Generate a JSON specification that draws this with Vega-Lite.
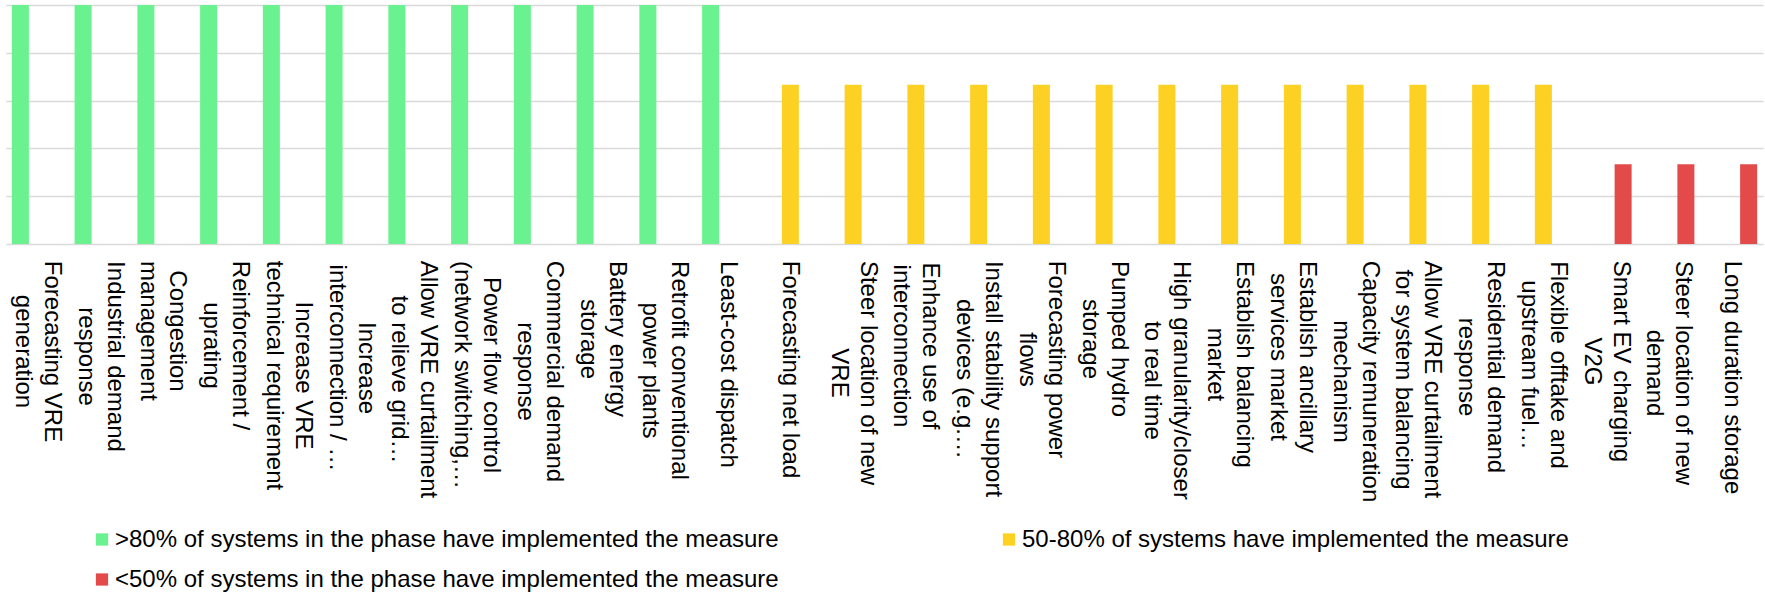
{
  "$schema": "https://vega.github.io/schema/vega-lite/v6.json",
  "width": 1757,
  "height": 239,
  "padding": {"left": 6, "top": 5, "right": 2, "bottom": 348},
  "autosize": {"type": "none"},
  "background": "white",
  "config": {"view": {"stroke": null}, "font": "Liberation Sans"},
  "data": {"values": [
    {"measure": "Forecasting VRE|generation", "group": ">80% of systems in the phase have implemented the measure", "score": 3},
    {"measure": "Industrial demand|response", "group": ">80% of systems in the phase have implemented the measure", "score": 3},
    {"measure": "Congestion|management", "group": ">80% of systems in the phase have implemented the measure", "score": 3},
    {"measure": "Reinforcement /|uprating", "group": ">80% of systems in the phase have implemented the measure", "score": 3},
    {"measure": "Increase VRE|technical requirement", "group": ">80% of systems in the phase have implemented the measure", "score": 3},
    {"measure": "Increase|interconnection / …", "group": ">80% of systems in the phase have implemented the measure", "score": 3},
    {"measure": "Allow VRE curtailment|to relieve grid…", "group": ">80% of systems in the phase have implemented the measure", "score": 3},
    {"measure": "Power flow control|(network switching,…", "group": ">80% of systems in the phase have implemented the measure", "score": 3},
    {"measure": "Commercial demand|response", "group": ">80% of systems in the phase have implemented the measure", "score": 3},
    {"measure": "Battery energy|storage", "group": ">80% of systems in the phase have implemented the measure", "score": 3},
    {"measure": "Retrofit conventional|power plants", "group": ">80% of systems in the phase have implemented the measure", "score": 3},
    {"measure": "Least-cost dispatch", "group": ">80% of systems in the phase have implemented the measure", "score": 3},
    {"measure": "Forecasting net load", "group": "50-80% of systems have implemented the measure", "score": 2},
    {"measure": "Steer location of new|VRE", "group": "50-80% of systems have implemented the measure", "score": 2},
    {"measure": "Enhance use of|interconnection", "group": "50-80% of systems have implemented the measure", "score": 2},
    {"measure": "Install stability support|devices (e.g.…", "group": "50-80% of systems have implemented the measure", "score": 2},
    {"measure": "Forecasting power|flows", "group": "50-80% of systems have implemented the measure", "score": 2},
    {"measure": "Pumped hydro|storage", "group": "50-80% of systems have implemented the measure", "score": 2},
    {"measure": "High granularity/closer|to real time", "group": "50-80% of systems have implemented the measure", "score": 2},
    {"measure": "Establish balancing|market", "group": "50-80% of systems have implemented the measure", "score": 2},
    {"measure": "Establish ancillary|services market", "group": "50-80% of systems have implemented the measure", "score": 2},
    {"measure": "Capacity remuneration|mechanism", "group": "50-80% of systems have implemented the measure", "score": 2},
    {"measure": "Allow VRE curtailment|for system balancing", "group": "50-80% of systems have implemented the measure", "score": 2},
    {"measure": "Residential demand|response", "group": "50-80% of systems have implemented the measure", "score": 2},
    {"measure": "Flexible offtake and|upstream fuel…", "group": "50-80% of systems have implemented the measure", "score": 2},
    {"measure": "Smart EV charging|V2G", "group": "<50% of systems in the phase have implemented the measure", "score": 1},
    {"measure": "Steer location of new|demand", "group": "<50% of systems in the phase have implemented the measure", "score": 1},
    {"measure": "Long duration storage", "group": "<50% of systems in the phase have implemented the measure", "score": 1}
  ]},
  "encoding": {
    "x": {
      "field": "measure", "type": "nominal", "sort": null,
      "scale": {"paddingInner": 0.187, "paddingOuter": 0.0935},
      "axis": {"title": null, "labels": false, "ticks": false, "domain": false, "grid": false}
    }
  },
  "layer": [
    {
      "mark": {"type": "bar"},
      "encoding": {
        "xOffset": {
          "field": "group", "type": "nominal",
          "scale": {"domain": [">80% of systems in the phase have implemented the measure", "50-80% of systems have implemented the measure", "<50% of systems in the phase have implemented the measure"], "paddingInner": 0, "paddingOuter": 0}
        },
        "y": {
          "field": "score", "type": "quantitative",
          "scale": {"domain": [0, 3], "nice": false},
          "axis": {"title": null, "labels": false, "ticks": false, "domain": false, "values": [0, 0.6, 1.2, 1.8, 2.4, 3], "grid": true, "gridColor": "#d9d9d9", "gridWidth": 1.3}
        },
        "color": {
          "field": "group", "type": "nominal",
          "scale": {"domain": [">80% of systems in the phase have implemented the measure", "50-80% of systems have implemented the measure", "<50% of systems in the phase have implemented the measure"], "range": ["#69F28F", "#FDD123", "#E34B4A"]},
          "legend": {
            "title": null, "orient": "none", "legendX": 84, "legendY": 522.5,
            "direction": "horizontal", "columns": 2, "columnPadding": 218, "rowPadding": 16,
            "symbolType": "square", "symbolSize": 150, "symbolStrokeWidth": 0, "symbolOpacity": 1,
            "labelFontSize": 24, "labelColor": "#000000", "labelLimit": 0, "labelOffset": 1, "padding": 0
          }
        }
      }
    },
    {
      "mark": {
        "type": "text", "angle": 90, "align": "center", "baseline": "middle",
        "fontSize": 24, "lineHeight": 29, "lineBreak": "|", "color": "#000000",
        "dx": {"expr": "17 + [90.5,95.5,70,84.5,114.5,107,118.5,114,110.5,78,109.5,103.5,108.5,112,85,118,98.5,78,119.5,103.5,96,120.5,118.5,106,104,100.5,112,116.5][indexof(['Forecasting VRE|generation','Industrial demand|response','Congestion|management','Reinforcement /|uprating','Increase VRE|technical requirement','Increase|interconnection / …','Allow VRE curtailment|to relieve grid…','Power flow control|(network switching,…','Commercial demand|response','Battery energy|storage','Retrofit conventional|power plants','Least-cost dispatch','Forecasting net load','Steer location of new|VRE','Enhance use of|interconnection','Install stability support|devices (e.g.…','Forecasting power|flows','Pumped hydro|storage','High granularity/closer|to real time','Establish balancing|market','Establish ancillary|services market','Capacity remuneration|mechanism','Allow VRE curtailment|for system balancing','Residential demand|response','Flexible offtake and|upstream fuel…','Smart EV charging|V2G','Steer location of new|demand','Long duration storage'], datum.measure)]"},
        "dy": {"expr": "-14.5 * (length(split(datum.measure, '|')) - 1)"}
      },
      "encoding": {
        "y": {"datum": 0, "type": "quantitative"},
        "text": {"field": "measure", "type": "nominal"}
      }
    }
  ]
}
